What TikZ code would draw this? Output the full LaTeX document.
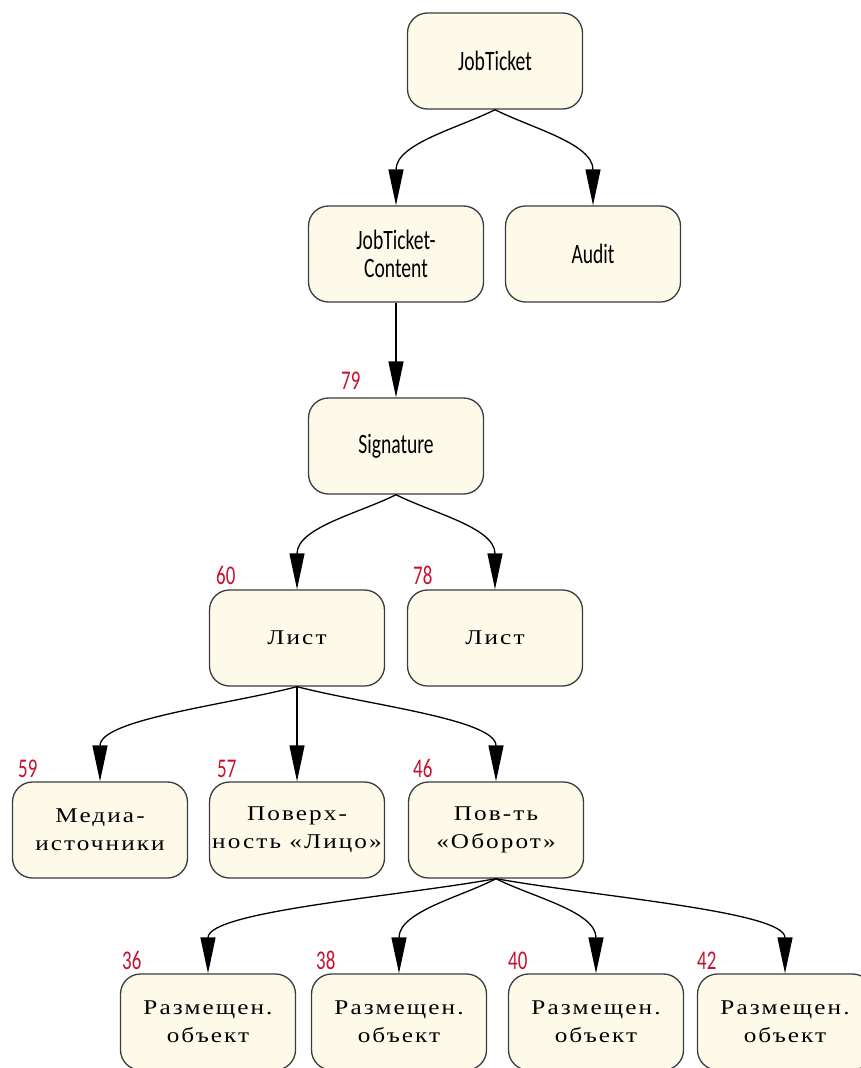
\documentclass[tikz,border=0pt]{standalone}
\usepackage{fontspec}
\setmainfont{Liberation Serif}
\newfontfamily\latinlab[FakeStretch=0.7]{Carlito}
\newfontfamily\cyrlab[FakeStretch=1.2,LetterSpace=10]{Liberation Serif}
\usetikzlibrary{arrows.meta}
\definecolor{boxfill}{RGB}{253,250,234}
\definecolor{boxline}{RGB}{60,60,60}
\definecolor{numred}{RGB}{200,16,46}
\tikzset{
  stepbox/.style={draw=boxline, line width=1.3pt, fill=boxfill, rounded corners=20pt,
    minimum width=175pt, minimum height=96pt, align=center, inner sep=0pt},
  latinbox/.style={stepbox, font=\latinlab\fontsize{28}{28}\selectfont},
  cyrbox/.style={stepbox, font=\cyrlab\fontsize{21}{28}\selectfont},
  num/.style={text=numred, font=\latinlab\fontsize{27}{27}\selectfont, anchor=south west, inner sep=0pt},
  edge/.style={draw=black, line width=1.3pt, -{Triangle[length=36pt,width=15pt]}},
}
\begin{document}
\begin{tikzpicture}[x=1pt,y=-1pt]
  \useasboundingbox (0,0) rectangle (861,1068);
  % boxes
  \node[latinbox] (jt)  at (495,61)  {JobTicket};
  \node[latinbox] (jtc) at (396,254) {JobTicket-\\Content};
  \node[latinbox] (au)  at (593,254) {Audit};
  \node[latinbox] (sig) at (396,446) {Signature};
  \node[cyrbox] (l1) at (297,638) {Лист};
  \node[cyrbox] (l2) at (495,638) {Лист};
  \node[cyrbox] (md) at (100,830) {Медиа-\\источники};
  \node[cyrbox] (fc) at (297,830) {Поверх-\\ность «Лицо»};
  \node[cyrbox] (bk) at (496,830) {Пов-ть\\«Оборот»};
  \node[cyrbox] (r1) at (208,1022) {Размещен.\\объект};
  \node[cyrbox] (r2) at (399,1022) {Размещен.\\объект};
  \node[cyrbox] (r3) at (596,1022) {Размещен.\\объект};
  \node[cyrbox] (r4) at (785,1022) {Размещен.\\объект};
  % page references
  \node[num] (n79) at (341,390) {79};
  \node[num] (n60) at (216,585) {60};
  \node[num] (n78) at (413,585) {78};
  \node[num] (n59) at (18,778)  {59};
  \node[num] (n57) at (217,778) {57};
  \node[num] (n46) at (413,778) {46};
  \node[num] (n36) at (122,970) {36};
  \node[num] (n38) at (316,970) {38};
  \node[num] (n40) at (508,970) {40};
  \node[num] (n42) at (697,970) {42};
  % connectors
  \draw[edge] (jt.south) .. controls +(-35,18) and +(0,-62) .. (jtc.north);
  \draw[edge] (jt.south) .. controls +(35,18) and +(0,-62) .. (au.north);
  \draw[edge] (jtc.south) -- (sig.north);
  \draw[edge] (sig.south) .. controls +(-35,18) and +(0,-62) .. (l1.north);
  \draw[edge] (sig.south) .. controls +(35,18) and +(0,-62) .. (l2.north);
  \draw[edge] (l1.south) .. controls +(-69,18) and +(0,-62) .. (md.north);
  \draw[edge] (l1.south) -- (fc.north);
  \draw[edge] (l1.south) .. controls +(69,18) and +(0,-62) .. (bk.north);
  \draw[edge] (bk.south) .. controls +(-100,18) and +(0,-62) .. (r1.north);
  \draw[edge] (bk.south) .. controls +(-34,18) and +(0,-62) .. (r2.north);
  \draw[edge] (bk.south) .. controls +(35,18) and +(0,-62) .. (r3.north);
  \draw[edge] (bk.south) .. controls +(100,18) and +(0,-62) .. (r4.north);
\end{tikzpicture}
\end{document}
